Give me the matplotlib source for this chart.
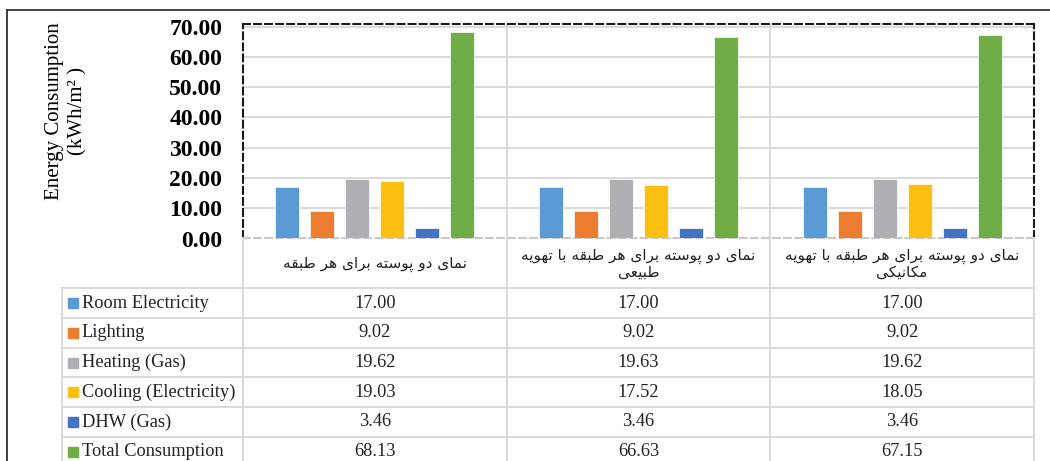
import numpy as np
import matplotlib
matplotlib.use("Agg")
import matplotlib.pyplot as plt
from matplotlib.lines import Line2D

# data
categories = ["نمای دو پوسته برای هر طبقه",
              "نمای دو پوسته برای هر طبقه با تهویه\nطبیعی",
              "نمای دو پوسته برای هر طبقه با تهویه\nمکانیکی"]
series = ["Room Electricity", "Lighting", "Heating (Gas)",
          "Cooling (Electricity)", "DHW (Gas)", "Total Consumption"]
room_elec = [17.00, 17.00, 17.00]
lighting = [9.02, 9.02, 9.02]
heating = [19.62, 19.63, 19.62]
cooling = [19.03, 17.52, 18.05]
dhw = [3.46, 3.46, 3.46]
total = [68.13, 66.63, 67.15]
values = [room_elec, lighting, heating, cooling, dhw, total]
colors = ["#5B9BD5", "#ED7D31", "#AEAFB2", "#FCC012", "#4472C4", "#70AD47"]
yticks = [0, 10, 20, 30, 40, 50, 60, 70]

# simple persian shaping (matplotlib has no bidi / joining)
FORMS = {  # isolated, final, initial, medial
    "ا": ("\uFE8D", "\uFE8E", None, None),
    "د": ("\uFEA9", "\uFEAA", None, None),
    "ر": ("\uFEAD", "\uFEAE", None, None),
    "و": ("\uFEED", "\uFEEE", None, None),
    "ب": ("\uFE8F", "\uFE90", "\uFE91", "\uFE92"),
    "ت": ("\uFE95", "\uFE96", "\uFE97", "\uFE98"),
    "س": ("\uFEB1", "\uFEB2", "\uFEB3", "\uFEB4"),
    "ط": ("\uFEC1", "\uFEC2", "\uFEC3", "\uFEC4"),
    "ع": ("\uFEC9", "\uFECA", "\uFECB", "\uFECC"),
    "ق": ("\uFED5", "\uFED6", "\uFED7", "\uFED8"),
    "م": ("\uFEE1", "\uFEE2", "\uFEE3", "\uFEE4"),
    "ن": ("\uFEE5", "\uFEE6", "\uFEE7", "\uFEE8"),
    "ه": ("\uFEE9", "\uFEEA", "\uFEEB", "\uFEEC"),
    "پ": ("\uFB56", "\uFB57", "\uFB58", "\uFB59"),
    "ک": ("\uFB8E", "\uFB8F", "\uFB90", "\uFB91"),
    "ی": ("\uFBFC", "\uFBFD", "\uFBFE", "\uFBFF"),
}


def dual(ch):
    return ch in FORMS and FORMS[ch][2] is not None


def shape_line(s):
    out = []
    for i, ch in enumerate(s):
        if ch not in FORMS:
            out.append(ch)
            continue
        prev = s[i - 1] if i > 0 else ""
        nxt = s[i + 1] if i + 1 < len(s) else ""
        jp = dual(prev)
        jn = dual(ch) and nxt in FORMS
        f = FORMS[ch]
        if jp and jn:
            out.append(f[3])
        elif jp:
            out.append(f[1])
        elif jn:
            out.append(f[2])
        else:
            out.append(f[0])
    return "".join(out)[::-1]


def shape(s):
    return "\n".join(shape_line(l) for l in s.split("\n"))


W, H = 1050, 461
fig = plt.figure(figsize=(W / 100, H / 100), dpi=100)

# plot area in pixels: x 243..1034, y 24..238.5
ax = fig.add_axes([243 / W, 1 - 238.5 / H, 791 / W, 214.5 / H])
x = np.arange(len(categories))
bw = 0.091
step = 0.1327
for i, (name, vals) in enumerate(zip(series, values)):
    ax.bar(x + (i - 2.5) * step, vals, bw, color=colors[i],
           edgecolor="white", linewidth=0.5, zorder=3, label=name)

ax.set_xlim(-0.5, 2.5)
ax.set_ylim(0, 70.9)
ax.set_yticks(yticks)
ax.set_yticklabels([f"{v:.2f}" for v in yticks], fontfamily="Liberation Serif",
                   fontweight="bold", fontsize=17)
ax.tick_params(axis="y", length=0, pad=15)
ax.set_xticks([])
for v in yticks[1:]:
    ax.axhline(v, color="#D9D9D9", lw=1.4, zorder=1)
for xv in [0.5, 1.5]:
    ax.axvline(xv, color="#D9D9D9", lw=1.4, zorder=1)
for s in ["top", "left", "right"]:
    ax.spines[s].set_color("#1a1a1a")
    ax.spines[s].set_linewidth(1.5)
    ax.spines[s].set_linestyle((0, (3.3, 2.0)))
ax.spines["bottom"].set_color("#C8C8C8")
ax.spines["bottom"].set_linewidth(1.5)
ax.spines["bottom"].set_linestyle((0, (3.3, 2.0)))

fig.text(66 / W, 1 - 111 / H, "Energy Consumption\n(kWh/m² )", rotation=90,
         ha="center", va="center", fontfamily="Liberation Serif", fontsize=15,
         linespacing=1.3)

# data table below the plot: pixels x 62..1034, y 238.5..461
rowh = 29.7
tab = fig.add_axes([62 / W, 0, 972 / W, (H - 238.5) / H])
left = -0.5 - 181 / 263.67
head = 49.8 / rowh
tab.set_xlim(left, 2.5)
tab.set_ylim((H - 238.5) / rowh, 0)
tab.axis("off")
gc = "#D9D9D9"
nrows = len(series)
bottom = head + nrows + 0.5
for xv in [-0.5, 0.5, 1.5, 2.5]:
    tab.plot([xv, xv], [0, bottom], color=gc, lw=1.4, clip_on=False)
tab.plot([left, left], [head, bottom], color=gc, lw=1.4, clip_on=False)
for r in range(nrows + 1):
    tab.plot([left, 2.5], [head + r, head + r], color=gc, lw=1.4, clip_on=False)

for c, lab in enumerate(categories):
    tab.text(c, 0.86, shape(lab), ha="center", va="center", fontsize=11,
             fontfamily="DejaVu Sans", linespacing=1.05, color="#222222")

for r, (name, vals) in enumerate(zip(series, values)):
    yc = head + r + 0.5
    tab.plot(left + 0.042, yc, "s", ms=6.5, color=colors[r], clip_on=False)
    tab.text(left + 0.074, yc, name, ha="left", va="center",
             fontfamily="Liberation Serif", fontsize=13.2, color="#222222")
    for c, v in enumerate(vals):
        tab.text(c, yc, f"{v:.2f}", ha="center", va="center",
                 fontfamily="Liberation Serif", fontsize=13.2, color="#222222")

# outer frame
fig.add_artist(Line2D([7 / W, 1.0], [1 - 10 / H] * 2, transform=fig.transFigure,
                      color="#333333", lw=1.3))
fig.add_artist(Line2D([7 / W, 7 / W], [0, 1 - 10 / H], transform=fig.transFigure,
                      color="#333333", lw=1.3))

fig.savefig("out.png", dpi=100)
